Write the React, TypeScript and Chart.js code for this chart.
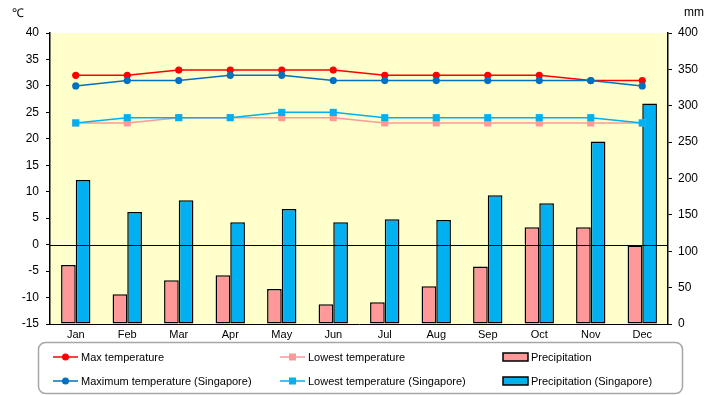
import React, { useEffect, useRef } from "react";
import { Chart, registerables } from "chart.js";

Chart.register(...registerables);

const months = ["Jan", "Feb", "Mar", "Apr", "May", "Jun", "Jul", "Aug", "Sep", "Oct", "Nov", "Dec"];
const maxTemp = [32, 32, 33, 33, 33, 33, 32, 32, 32, 32, 31, 31];
const minTemp = [23, 23, 24, 24, 24, 24, 23, 23, 23, 23, 23, 23];
const precip = [81, 41, 60, 67, 48, 27, 30, 52, 79, 133, 133, 108];
const sgMax = [30, 31, 31, 32, 32, 31, 31, 31, 31, 31, 31, 30];
const sgMin = [23, 24, 24, 24, 25, 25, 24, 24, 24, 24, 24, 23];
const sgPrecip = [198, 154, 170, 140, 158, 140, 144, 143, 177, 166, 251, 303];

const tempAxis = { min: -15, max: 40, step: 5, unit: "℃" };
const rainAxis = { min: 0, max: 400, step: 50, unit: "mm" };

const legendLabels = [
  "Max temperature",
  "Lowest temperature",
  "Precipitation",
  "Maximum temperature (Singapore)",
  "Lowest temperature (Singapore)",
  "Precipitation (Singapore)",
];

const FONT = '"Liberation Sans", Arial, sans-serif';
const TICKFONT = '"Liberation Sans Narrow", "Liberation Sans", Arial, sans-serif';

const bgPlugin = {
  id: "bgPlugin",
  beforeDraw(chart: any) {
    const { ctx, chartArea } = chart;
    ctx.save();
    ctx.fillStyle = "#ffffff";
    ctx.fillRect(0, 0, chart.width, chart.height);
    ctx.fillStyle = "#FFFFCC";
    ctx.fillRect(chartArea.left, chartArea.top, chartArea.right - chartArea.left, chartArea.bottom - chartArea.top);
    ctx.restore();
  },
  afterDatasetsDraw(chart: any) {
    const { ctx, chartArea } = chart;
    const y0 = Math.round(chart.scales.y.getPixelForValue(0)) + 0.5;
    ctx.save();
    ctx.strokeStyle = "#000";
    ctx.lineWidth = 1;
    ctx.beginPath();
    ctx.moveTo(chartArea.left, y0);
    ctx.lineTo(chartArea.right, y0);
    ctx.stroke();
    ctx.restore();
  },
  afterDraw(chart: any) {
    const { ctx } = chart;
    ctx.save();
    ctx.fillStyle = "#000";
    ctx.font = "12px " + FONT;
    ctx.textBaseline = "middle";
    ctx.textAlign = "left";
    ctx.fillText(tempAxis.unit, 12, 14);
    ctx.fillText(rainAxis.unit, 684, 13);

    // legend box
    ctx.strokeStyle = "#A6A6A6";
    ctx.lineWidth = 1.5;
    ctx.beginPath();
    (ctx as any).roundRect(38.5, 342.5, 644, 51, 7);
    ctx.stroke();

    const cols = [53, 280, 503];
    const rows = [357, 381];
    const ds = chart.data.datasets;
    ds.forEach((d: any, i: number) => {
      const x = cols[i % 3];
      const y = rows[Math.floor(i / 3)];
      if (d.type === "line") {
        ctx.strokeStyle = d.borderColor;
        ctx.lineWidth = 1.5;
        ctx.beginPath();
        ctx.moveTo(x, y);
        ctx.lineTo(x + 25, y);
        ctx.stroke();
        ctx.fillStyle = d.pointBackgroundColor;
        if (d.pointStyle === "rect") {
          ctx.fillRect(x + 9, y - 3.5, 7, 7);
        } else {
          ctx.beginPath();
          ctx.arc(x + 12.5, y, 3.5, 0, Math.PI * 2);
          ctx.fill();
        }
      } else {
        ctx.fillStyle = d.backgroundColor;
        ctx.fillRect(x, y - 4, 25, 8);
        ctx.strokeStyle = "#000";
        ctx.lineWidth = 1.5;
        ctx.strokeRect(x, y - 4, 25, 8);
      }
      ctx.fillStyle = "#000";
      ctx.font = "11px " + FONT;
      ctx.textBaseline = "middle";
      ctx.textAlign = "left";
      ctx.fillText(d.label, x + 28, y + 1);
    });
    ctx.restore();
  },
};

export default function App() {
  const ref = useRef<HTMLCanvasElement>(null);
  useEffect(() => {
    const lineDs = (label: string, data: number[], color: string, style: string, order: number) => ({
      type: "line" as const,
      label,
      data,
      yAxisID: "y",
      borderColor: color,
      backgroundColor: color,
      pointBackgroundColor: color,
      pointBorderColor: color,
      pointBorderWidth: 0,
      pointStyle: style,
      pointRadius: style === "rect" ? 5 : 3.6,
      borderWidth: 1.5,
      tension: 0,
      order,
    });
    const chart = new Chart(ref.current as HTMLCanvasElement, {
      type: "bar",
      data: {
        labels: months,
        datasets: [
          lineDs(legendLabels[0], maxTemp, "#FF0000", "circle", 2),
          lineDs(legendLabels[1], minTemp, "#FF9999", "rect", 2),
          { type: "bar", label: legendLabels[2], data: precip, yAxisID: "y1", backgroundColor: "#FF9999", borderColor: "#000", borderWidth: 1.5, borderSkipped: false, order: 3 },
          lineDs(legendLabels[3], sgMax, "#0070C0", "circle", 1),
          lineDs(legendLabels[4], sgMin, "#00B0F0", "rect", 1),
          { type: "bar", label: legendLabels[5], data: sgPrecip, yAxisID: "y1", backgroundColor: "#00B0F0", borderColor: "#000", borderWidth: 1.5, borderSkipped: false, order: 3 },
        ] as any,
      },
      options: {
        responsive: false,
        animation: false,
        datasets: { bar: { categoryPercentage: 0.57, barPercentage: 1 } } as any,
        layout: { padding: { top: 33, bottom: 51, left: 0, right: 0 } },
        plugins: { legend: { display: false }, tooltip: { enabled: false }, title: { display: false } },
        scales: {
          x: {
            offset: true,
            grid: { display: false, drawTicks: false },
            border: { display: true, color: "#000", width: 1 },
            ticks: { color: "#000", font: { family: FONT, size: 11 }, padding: 4, maxRotation: 0 },
            afterFit: (s: any) => { s.height = 20; },
          },
          y: {
            position: "left",
            min: tempAxis.min,
            max: tempAxis.max,
            ticks: { stepSize: tempAxis.step, color: "#000", font: { family: TICKFONT, size: 12 }, padding: 7 },
            grid: { drawOnChartArea: false, tickColor: "#000", tickLength: 4, lineWidth: 1 },
            border: { display: true, color: "#000", width: 1.5 },
            afterFit: (s: any) => { s.width = 50; },
          },
          y1: {
            position: "right",
            min: rainAxis.min,
            max: rainAxis.max,
            ticks: { stepSize: rainAxis.step, color: "#000", font: { family: TICKFONT, size: 12 }, padding: 6 },
            grid: { drawOnChartArea: false, tickColor: "#000", tickLength: 4 },
            border: { display: true, color: "#000", width: 1.5 },
            afterFit: (s: any) => { s.width = 52; },
          },
        },
      } as any,
      plugins: [bgPlugin],
    });
    return () => chart.destroy();
  }, []);
  return (
    <div style={{ position: "absolute", left: 0, top: 0, width: 720, height: 395, background: "#fff" }}>
      <canvas ref={ref} width={720} height={395} style={{ display: "block" }} />
    </div>
  );
}
